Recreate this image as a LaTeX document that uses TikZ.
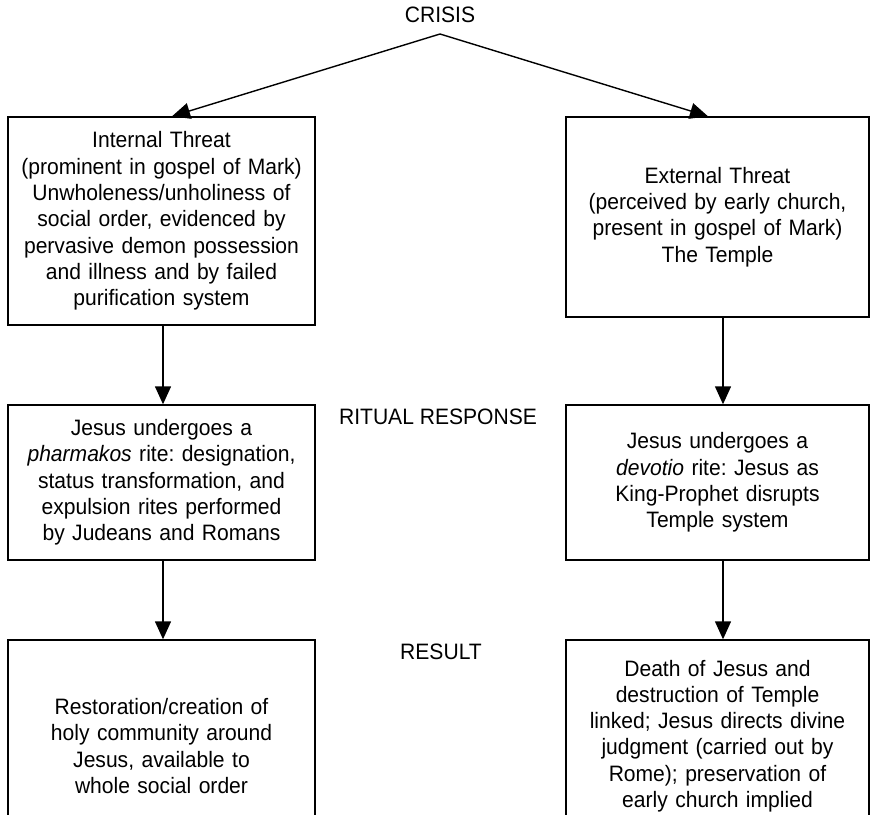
\documentclass[tikz,border=0pt]{standalone}
\usepackage{fontspec}
\setmainfont{Liberation Sans}[FakeStretch=0.945]
\usetikzlibrary{arrows.meta}
\newcommand{\flowfont}{\fontsize{22.3}{26.3}\selectfont\frenchspacing}

\begin{document}
\begin{tikzpicture}[x=1pt,y=1pt,yscale=-1,xscale=1,
  stagebox/.style={draw, line width=1.4pt, align=center, font=\flowfont, inner sep=0pt},
  leftbox/.style={stagebox, minimum width=307, text width=300},
  rightbox/.style={stagebox, minimum width=303, text width=296},
  stagelabel/.style={align=center, font=\flowfont, inner sep=0pt},
  flowarrow/.style={line width=1.4pt, -{Triangle[length=18pt,width=16pt]}}]
\useasboundingbox (0,0) rectangle (870,814);
\clip (0,0) rectangle (870,814);

% Text Node
\node[stagelabel] (crisis) at (440,15) {CRISIS};
\coordinate (apex) at (440,34);

%Shape: Rectangle
\node[leftbox, minimum height=208] (internal) at (161.5,221) {Internal Threat\\(prominent in gospel of Mark)\\Unwholeness/unholiness of\\social order, evidenced by\\pervasive demon possession\\and illness and by failed\\purification system};
%Shape: Rectangle
\node[rightbox, minimum height=200] (external) at (717.5,217) {External Threat\\(perceived by early church,\\present in gospel of Mark)\\The Temple};

% Text Node
\node[stagelabel] (ritual) at (438,417) {RITUAL RESPONSE};
%Shape: Rectangle
\node[leftbox, minimum height=155] (pharmakos) at (161.5,482.5) {Jesus undergoes a\\\textit{pharmakos} rite: designation,\\status transformation, and\\expulsion rites performed\\by Judeans and Romans};
%Shape: Rectangle
\node[rightbox, minimum height=155] (devotio) at (717.5,482.5) {Jesus undergoes a\\\textit{devotio} rite: Jesus as\\King-Prophet disrupts\\Temple system};

% Text Node
\node[stagelabel] (result) at (441,652) {RESULT};
%Shape: Rectangle
\node[leftbox, minimum height=212] (restoration) at (161.5,746) {Restoration/creation of\\holy community around\\Jesus, available to\\whole social order};
%Shape: Rectangle
\node[rightbox, minimum height=192] (death) at (717.5,736) {Death of Jesus and\\destruction of Temple\\linked; Jesus directs divine\\judgment (carried out by\\Rome); preservation of\\early church implied};

%Straight Lines
\draw[flowarrow] (apex) -- ([xshift=10.5]internal.north);
\draw[flowarrow] (apex) -- ([xshift=-9.5]external.north);
%Straight Lines
\draw[flowarrow] ([xshift=1.5]internal.south) -- ([xshift=1.5]pharmakos.north);
\draw[flowarrow] ([xshift=5.5]external.south) -- ([xshift=5.5]devotio.north);
%Straight Lines
\draw[flowarrow] ([xshift=1.5]pharmakos.south) -- ([xshift=1.5]restoration.north);
\draw[flowarrow] ([xshift=5.5]devotio.south) -- ([xshift=5.5]death.north);

\end{tikzpicture}
\end{document}
